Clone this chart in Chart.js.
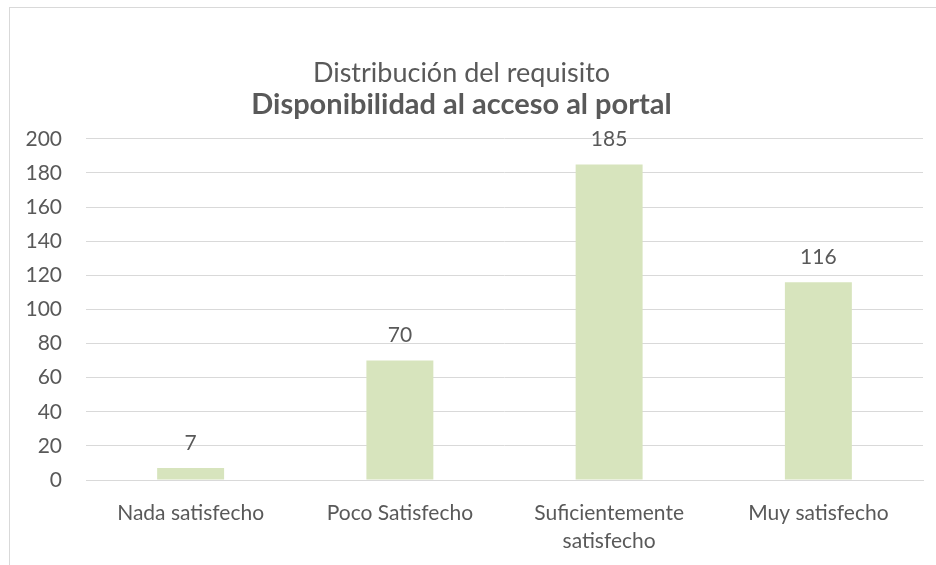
<!DOCTYPE html>
<html>
<head>
<meta charset="utf-8">
<script src="https://cdn.jsdelivr.net/npm/chart.js@4"></script>
<style>
    body { margin: 0; background: #fff; }
    #frame { position: absolute; left: 9px; top: 7px; width: 1000px; height: 1000px; border: 1px solid #d9d9d9; }
    #wrap { position: absolute; left: 0; top: 0; width: 936px; height: 565px; }
</style>
</head>
<body>
<div id="frame"></div>
<div id="wrap"><canvas id="barChart"></canvas></div>
<script>
// Chart data
const categories = ["Nada satisfecho", "Poco Satisfecho", ["Suficientemente", "satisfecho"], "Muy satisfecho"];
const counts = [7, 70, 185, 116];
const titleLine1 = "Distribución del requisito";
const titleLine2 = "Disponibilidad al acceso al portal";

const textColor = "#595959";
const fontFamily = "Lato, 'Open Sans', sans-serif";

// Simple value labels above each bar
const valueLabels = {
    id: "valueLabels",
    afterDatasetsDraw(chart) {
        const ctx = chart.ctx;
        const meta = chart.getDatasetMeta(0);
        ctx.save();
        ctx.fillStyle = textColor;
        ctx.font = "21px " + fontFamily;
        ctx.textAlign = "center";
        ctx.textBaseline = "middle";
        meta.data.forEach((bar, i) => {
            ctx.fillText(String(counts[i]), bar.x, bar.y - 25);
        });
        ctx.restore();
    }
};

const ctx = document.getElementById("barChart").getContext("2d");
const barChart = new Chart(ctx, {
    type: "bar",
    data: {
        labels: categories,
        datasets: [{
            data: counts,
            backgroundColor: "#d7e4bd",
            barPercentage: 0.32,
            categoryPercentage: 1
        }]
    },
    options: {
        responsive: true,
        maintainAspectRatio: false,
        animation: false,
        layout: { padding: { left: 0, right: 13, top: 0, bottom: 0 } },
        plugins: {
            legend: { display: false },
            tooltip: { enabled: false },
            title: {
                display: true,
                text: titleLine1,
                color: textColor,
                font: { family: fontFamily, size: 27, weight: "normal", lineHeight: 1.2 },
                padding: { top: 57, bottom: 0 }
            },
            subtitle: {
                display: true,
                text: titleLine2,
                color: textColor,
                font: { family: fontFamily, size: 29, weight: "bold", lineHeight: 1.05 },
                padding: { top: 0, bottom: 19 }
            }
        },
        scales: {
            x: {
                grid: { display: false },
                border: { display: true, color: "#d9d9d9" },
                ticks: {
                    color: textColor,
                    font: { family: fontFamily, size: 21, lineHeight: 1.3 },
                    padding: 12,
                    maxRotation: 0,
                    autoSkip: false
                },
                afterFit(scale) { scale.height = 85; }
            },
            y: {
                min: 0,
                max: 200,
                grid: { color: "#d9d9d9", drawTicks: false },
                border: { display: false },
                ticks: {
                    stepSize: 20,
                    color: textColor,
                    font: { family: fontFamily, size: 21 },
                    padding: 24
                },
                afterFit(scale) { scale.width = 86; }
            }
        }
    },
    plugins: [valueLabels]
});
</script>
</body>
</html>
